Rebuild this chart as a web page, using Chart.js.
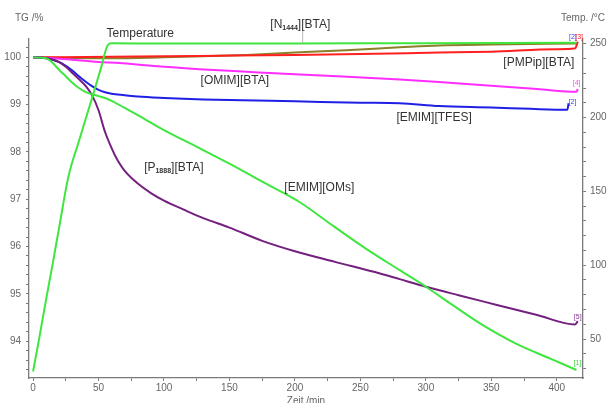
<!DOCTYPE html>
<html>
<head>
<meta charset="utf-8">
<script src="https://cdn.jsdelivr.net/npm/chart.js@4.4.1/dist/chart.umd.min.js"></script>
<style>
  html, body { margin: 0; padding: 0; background: #fff; }
  #wrap { width: 608px; height: 403px; }
</style>
</head>
<body>
<div id="wrap"><canvas id="tgChart"></canvas></div>
<script>
// TG curves (time in min, mass in %)
const timeOMs = [0, 10, 15, 20, 25, 30, 35, 40, 45, 50, 55, 60, 70, 80, 100, 127, 150, 175, 204, 230, 255, 280, 300, 320, 341, 370, 395, 415];
const tgOMs   = [100, 99.98, 99.88, 99.73, 99.6, 99.46, 99.35, 99.27, 99.22, 99.18, 99.14, 99.08, 98.93, 98.78, 98.46, 98.08, 97.75, 97.37, 96.93, 96.42, 95.94, 95.5, 95.15, 94.77, 94.38, 93.93, 93.63, 93.39];

const timeP1888 = [0, 10, 20, 25, 30, 35, 40, 45, 50, 55, 60, 65, 70, 80, 90, 100, 115, 130, 150, 175, 200, 230, 265, 280, 300, 325, 355, 385, 414, 416];
const tgP1888   = [100, 99.98, 99.9, 99.8, 99.67, 99.54, 99.4, 99.2, 98.88, 98.42, 98.08, 97.8, 97.6, 97.33, 97.13, 96.97, 96.78, 96.6, 96.4, 96.12, 95.9, 95.68, 95.43, 95.31, 95.15, 94.97, 94.76, 94.55, 94.35, 94.42];

const timeTFES = [0, 10, 15, 20, 25, 30, 35, 40, 45, 50, 55, 60, 70, 80, 100, 130, 160, 200, 250, 280, 310, 350, 380, 408, 409];
const tgTFES   = [100, 99.98, 99.95, 99.9, 99.82, 99.72, 99.6, 99.49, 99.39, 99.31, 99.26, 99.23, 99.2, 99.17, 99.14, 99.11, 99.09, 99.07, 99.04, 99.03, 98.97, 98.94, 98.91, 98.89, 99.03];

const timeOMIM = [0, 20, 50, 66, 90, 127, 160, 200, 240, 280, 310, 350, 385, 415, 416];
const tgOMIM   = [100, 99.97, 99.9, 99.88, 99.82, 99.75, 99.7, 99.64, 99.59, 99.53, 99.48, 99.4, 99.33, 99.27, 99.33];

const timePMPip = [0, 60, 127, 200, 310, 350, 400, 414, 416];
const tgPMPip   = [100, 100.01, 100.03, 100.05, 100.1, 100.12, 100.17, 100.19, 100.33];

const timeN1444 = [0, 60, 100, 130, 163, 200, 239, 280, 310, 350, 415];
const tgN1444   = [100, 99.98, 100, 100.02, 100.05, 100.1, 100.15, 100.21, 100.25, 100.27, 100.29];

// furnace temperature (°C)
const timeTemp = [0, 5, 10, 15, 20, 27, 35, 45, 52, 57, 60, 100, 200, 300, 415];
const temp     = [28, 52, 77, 101, 126, 160, 184, 213, 234, 249, 250.3, 250.1, 250.2, 250.4, 250.6];

// tick labels
const timeMajor = [0, 50, 100, 150, 200, 250, 300, 350, 400];
const tgMajor   = [94, 95, 96, 97, 98, 99, 100];
const tempMajor = [50, 100, 150, 200, 250];

const toPts = (ts, vs) => ts.map((t, i) => ({ x: t, y: vs[i] }));

function minorTicks(step) {
    return scale => {
        const out = [];
        const first = Math.ceil(scale.min / step) * step;
        for (let v = first; v <= scale.max + 1e-9; v += step) {
            out.push({ value: Math.round(v * 100) / 100 });
        }
        scale.ticks = out;
    };
}
const onlyMajor = major => v => major.includes(Math.round(v * 100) / 100) ? String(Math.round(v)) : '';

const tickFont = { family: 'Liberation Sans', size: 10 };
const axisGrey = '#7a7a7a';

// text that sits inside the plot (placed in data units of the time / TG axes)
const notes = [
    { text: 'Temperature', t: 81.9, v: 100.50 },
    { text: '[N', sub: '1444', rest: '][BTA]', t: 204.1, v: 100.69 },
    { text: '[OMIM][BTA]', t: 154.1, v: 99.50 },
    { text: '[EMIM][TFES]', t: 306.3, v: 98.72 },
    { text: '[PMPip][BTA]', t: 386.3, v: 99.88 },
    { text: '[P', sub: '1888', rest: '][BTA]', t: 107.5, v: 97.66 },
    { text: '[EMIM][OMs]', t: 218.6, v: 97.24 }
];
const tags = [
    { text: '[1]', color: '#3ad63a', t: 415.7, v: 93.54 },
    { text: '[5]', color: '#8a3a9a', t: 416, v: 94.51 },
    { text: '[2]', color: '#3a3aff', t: 412, v: 99.06 },
    { text: '[4]', color: '#ff44ff', t: 415.1, v: 99.46 },
    { text: '[2]', color: '#3a3aff', t: 412.3, v: 100.43 },
    { text: '[3]', color: '#ff2a2a', t: 417, v: 100.43 }
];

const textPlugin = {
    id: 'textPlugin',
    afterDraw(chart) {
        const ctx = chart.ctx;
        const xs = chart.scales.x, ys = chart.scales.yTG;
        ctx.save();
        ctx.textBaseline = 'middle';

        // axis titles
        ctx.fillStyle = '#666';
        ctx.font = '10px "Liberation Sans"';
        ctx.textAlign = 'left';
        ctx.fillText('TG /%', 15, 18);
        ctx.fillText('Temp. /°C', 561, 18);
        ctx.textAlign = 'center';
        ctx.fillText('Zeit /min', 306, 401);

        // pointer from the N1444 label down to its curve
        ctx.strokeStyle = '#bbb';
        ctx.lineWidth = 1;
        ctx.beginPath();
        ctx.moveTo(xs.getPixelForValue(205.9), ys.getPixelForValue(100.58));
        ctx.lineTo(xs.getPixelForValue(205.9), ys.getPixelForValue(100.30));
        ctx.stroke();

        ctx.fillStyle = '#333';
        notes.forEach(n => {
            const cx = xs.getPixelForValue(n.t), cy = ys.getPixelForValue(n.v);
            ctx.font = '12px "Liberation Sans"';
            if (!n.sub) {
                ctx.textAlign = 'center';
                ctx.fillText(n.text, cx, cy);
                return;
            }
            const w1 = ctx.measureText(n.text).width;
            const w3 = ctx.measureText(n.rest).width;
            ctx.font = 'bold 7px "Liberation Sans"';
            const w2 = ctx.measureText(n.sub).width;
            let x = cx - (w1 + w2 + w3) / 2;
            ctx.textAlign = 'left';
            ctx.font = '12px "Liberation Sans"';
            ctx.fillText(n.text, x, cy);
            x += w1;
            ctx.font = 'bold 7px "Liberation Sans"';
            ctx.fillText(n.sub, x, cy + 3);
            x += w2;
            ctx.font = '12px "Liberation Sans"';
            ctx.fillText(n.rest, x, cy);
        });

        ctx.font = '7px "Liberation Sans"';
        ctx.textAlign = 'center';
        tags.forEach(g => {
            ctx.fillStyle = g.color;
            ctx.fillText(g.text, xs.getPixelForValue(g.t), ys.getPixelForValue(g.v));
        });
        ctx.restore();
    }
};

const line = (label, pts, color, axis) => ({
    label, data: pts, borderColor: color, borderWidth: 2, pointRadius: 0,
    cubicInterpolationMode: 'monotone', yAxisID: axis, fill: false
});

new Chart(document.getElementById('tgChart'), {
    type: 'line',
    data: {
        datasets: [
            line('Temperature', toPts(timeTemp, temp), '#3ee63e', 'yTemp'),
            line('[EMIM][OMs]', toPts(timeOMs, tgOMs), '#3ee63e', 'yTG'),
            line('[P1888][BTA]', toPts(timeP1888, tgP1888), '#74207f', 'yTG'),
            line('[EMIM][TFES]', toPts(timeTFES, tgTFES), '#1f1fe6', 'yTG'),
            line('[OMIM][BTA]', toPts(timeOMIM, tgOMIM), '#ff2eff', 'yTG'),
            line('[PMPip][BTA]', toPts(timePMPip, tgPMPip), '#ff1f1f', 'yTG'),
            line('[N1444][BTA]', toPts(timeN1444, tgN1444), '#8c7f2a', 'yTG')
        ]
    },
    options: {
        responsive: true,
        maintainAspectRatio: false,
        animation: false,
        parsing: true,
        layout: { padding: { top: 39, left: 0, right: 0, bottom: 0 } },
        plugins: { legend: { display: false }, tooltip: { enabled: false } },
        scales: {
            x: {
                type: 'linear', position: 'bottom', min: -3.1, max: 420,
                afterBuildTicks: minorTicks(25),
                afterFit: s => { s.height = 25; },
                ticks: { callback: onlyMajor(timeMajor), autoSkip: false, maxRotation: 0, padding: 1, color: '#666', font: tickFont },
                grid: { drawOnChartArea: false, tickLength: 3, color: axisGrey },
                border: { color: axisGrey, width: 1.3 }
            },
            yTG: {
                type: 'linear', position: 'left', min: 93.22, max: 100.387,
                afterBuildTicks: minorTicks(0.2),
                afterFit: s => { s.width = 29; },
                ticks: { callback: onlyMajor(tgMajor), autoSkip: false, padding: 5, color: '#666', font: tickFont },
                grid: { drawOnChartArea: false, tickLength: 3, color: axisGrey },
                border: { color: axisGrey, width: 1.3 }
            },
            yTemp: {
                type: 'linear', position: 'right', min: 23.6, max: 253.2,
                afterBuildTicks: minorTicks(10),
                afterFit: s => { s.width = 25; },
                ticks: { callback: onlyMajor(tempMajor), autoSkip: false, padding: 4, color: '#666', font: tickFont },
                grid: { drawOnChartArea: false, tickLength: 3, color: axisGrey },
                border: { color: axisGrey, width: 1.3 }
            }
        }
    },
    plugins: [textPlugin]
});
</script>
</body>
</html>
